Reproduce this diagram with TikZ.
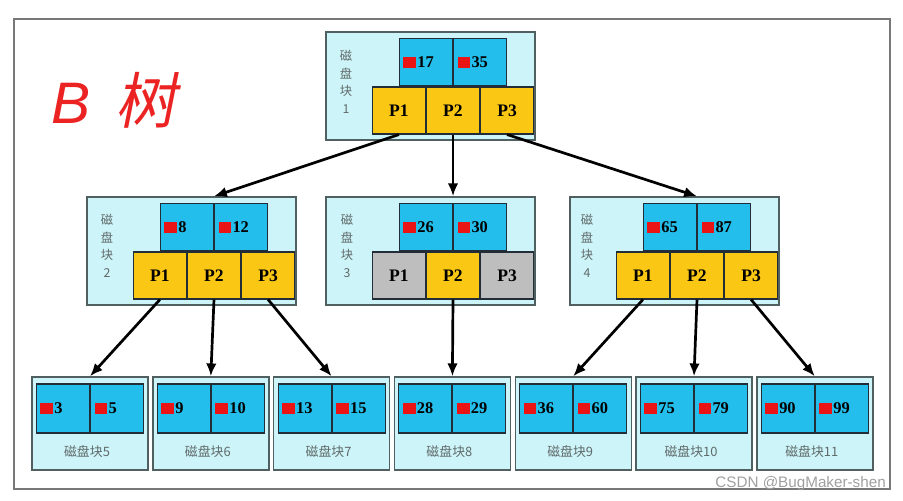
\documentclass[tikz,border=0pt]{standalone}
\usepackage{fontspec}
\setmainfont{Liberation Serif}
\newfontfamily\cjk{Noto Sans CJK SC}
\newfontfamily\cjkslant[FakeSlant=0.2]{Noto Sans CJK SC}
\newfontfamily\titlesans{Liberation Sans}
\usetikzlibrary{positioning,arrows.meta}
\definecolor{blockfill}{RGB}{205,244,248}
\definecolor{blockline}{RGB}{80,95,95}
\definecolor{cellline}{RGB}{35,45,55}
\definecolor{keyfill}{RGB}{35,190,235}
\definecolor{pfill}{RGB}{250,200,20}
\definecolor{pgray}{RGB}{190,190,190}
\definecolor{keyred}{RGB}{235,20,20}
\definecolor{titlered}{RGB}{235,35,35}
\definecolor{tagcol}{RGB}{95,105,105}
\definecolor{framecol}{RGB}{120,120,120}
\newcommand\keymark{\textcolor{keyred}{\rule[-0.01cm]{0.38cm}{0.33cm}}\hspace{0.04cm}}

\begin{document}
\begin{tikzpicture}[x=0.03cm,y=-0.03cm,
  blk/.style={draw=blockline,fill=blockfill,line width=1.2pt,minimum width=6.27cm,minimum height=3.24cm,inner sep=0pt},
  leaf/.style={draw=blockline,fill=blockfill,line width=1.2pt,minimum width=3.48cm,minimum height=2.79cm,inner sep=0pt},
  key/.style={draw=cellline,fill=keyfill,line width=0.9pt,minimum width=1.59cm,minimum height=1.41cm,text width=1.35cm,inner xsep=0.12cm,align=left,font=\bfseries\fontsize{14}{14}\selectfont},
  lkey/.style={key,minimum height=1.47cm},
  ptr/.style={draw=cellline,fill=pfill,line width=0.9pt,minimum width=1.59cm,minimum height=1.41cm,inner sep=0pt,font=\bfseries\fontsize{15}{15}\selectfont},
  nil/.style={ptr,fill=pgray},
  tag/.style={text=tagcol,font=\cjk\fontsize{10.5}{15}\selectfont,align=center,inner sep=0pt},
  ltag/.style={text=tagcol,font=\cjk\fontsize{11}{11}\selectfont,inner sep=0pt},
  link/.style={-{Latex[length=11pt,width=9pt]},line width=2.3pt}]
\useasboundingbox (0,0) rectangle (903,500);
\draw[framecol,line width=1.6pt] (14,19) rectangle (890,489);

\node[anchor=west,text=titlered,inner sep=0pt] (title) at (51,100)
  {{\titlesans\itshape\fontsize{50}{50}\selectfont B}\hspace{0.75cm}{\cjkslant\fontsize{52}{52}\selectfont 树}};

\node[blk] (b1) at (430.5,86) {};
\node[ptr] (b1p2) at (453,110.5) {P2};
\node[ptr,left=0pt of b1p2] (b1p1) {P1};
\node[ptr,right=0pt of b1p2] (b1p3) {P3};
\node[key,anchor=south east] (b1k1) at (b1p2.north) {\keymark 17};
\node[key,anchor=south west] (b1k2) at (b1p2.north) {\keymark 35};
\node[tag] (b1tag) at (346,82) {磁\\盘\\块\\1};

\node[blk] (b2) at (191.5,251) {};
\node[ptr] (b2p2) at (214,275.5) {P2};
\node[ptr,left=0pt of b2p2] (b2p1) {P1};
\node[ptr,right=0pt of b2p2] (b2p3) {P3};
\node[key,anchor=south east] (b2k1) at (b2p2.north) {\keymark 8};
\node[key,anchor=south west] (b2k2) at (b2p2.north) {\keymark 12};
\node[tag] (b2tag) at (107,246) {磁\\盘\\块\\2};

\node[blk] (b3) at (430.5,251) {};
\node[ptr] (b3p2) at (453,275.5) {P2};
\node[nil,left=0pt of b3p2] (b3p1) {P1};
\node[nil,right=0pt of b3p2] (b3p3) {P3};
\node[key,anchor=south east] (b3k1) at (b3p2.north) {\keymark 26};
\node[key,anchor=south west] (b3k2) at (b3p2.north) {\keymark 30};
\node[tag] (b3tag) at (347,246) {磁\\盘\\块\\3};

\node[blk] (b4) at (674.5,251) {};
\node[ptr] (b4p2) at (697,275.5) {P2};
\node[ptr,left=0pt of b4p2] (b4p1) {P1};
\node[ptr,right=0pt of b4p2] (b4p3) {P3};
\node[key,anchor=south east] (b4k1) at (b4p2.north) {\keymark 65};
\node[key,anchor=south west] (b4k2) at (b4p2.north) {\keymark 87};
\node[tag] (b4tag) at (587,246) {磁\\盘\\块\\4};

\foreach \s/\a/\b [count=\i from 5] in {90/3/5,210.8/9/10,331.6/13/15,452.4/28/29,573.2/36/60,694/75/79,814.8/90/99}{
  \node[leaf] (leaf\i) at (\s,423.5) {};
  \node[lkey,anchor=east] (leaf\i k1) at (\s,408.5) {\keymark \a};
  \node[lkey,anchor=west] (leaf\i k2) at (\s,408.5) {\keymark \b};
  \node[ltag] (leaf\i tag) at (\s-3,452) {磁盘块\i};
}

\draw[link] (b1p1.south) -- (b2k1.east |- b2.north);
\draw[link] (b1p2.south) -- (b3k1.east |- b3.north);
\draw[link] (b1p3.south) -- (b4k1.east |- b4.north);
\draw[link] (b2p1.south) -- (leaf5k1.east |- leaf5.north);
\draw[link] (b2p2.south) -- (leaf6k1.east |- leaf6.north);
\draw[link] (b2p3.south) -- (leaf7k1.east |- leaf7.north);
\draw[link] (b3p2.south) -- (leaf8k1.east |- leaf8.north);
\draw[link] (b4p1.south) -- (leaf9k1.east |- leaf9.north);
\draw[link] (b4p2.south) -- (leaf10k1.east |- leaf10.north);
\draw[link] (b4p3.south) -- (leaf11k1.east |- leaf11.north);

\node[anchor=east,text=gray!75,font=\titlesans\fontsize{13}{13}\selectfont,inner sep=0pt] (mark) at (886,484) {CSDN @BugMaker-shen};
\end{tikzpicture}
\end{document}
